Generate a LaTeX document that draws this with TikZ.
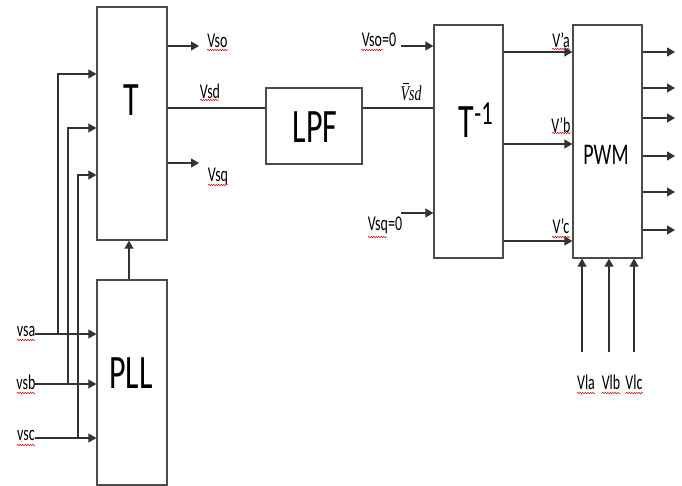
\documentclass[tikz,border=0pt]{standalone}
\usepackage{fontspec}
\setmainfont{Carlito}
\newfontfamily\serifit{Liberation Serif}
\usepackage{graphicx}
\usetikzlibrary{arrows.meta,decorations.pathmorphing}
\newcommand{\tallt}[1]{\scalebox{1}[1.5]{#1}}
\newcommand{\barV}{\makebox[0pt][l]{\hspace{2.6pt}\raisebox{10.8pt}{\rule{5.5pt}{0.7pt}}}V}
\begin{document}
\begin{tikzpicture}[x=1pt,y=-1pt,
 box/.style={draw=black!70,line width=1.3pt,inner sep=0pt},
 conn/.style={draw=black!80,line width=1.1pt},
 arr/.style={conn,-{Triangle[length=8pt,width=9pt]}},
 lbl/.style={inner sep=0pt,font=\fontsize{14}{14}\selectfont},
 big/.style={inner sep=0pt,font=\fontsize{32}{32}\selectfont},
 mid/.style={inner sep=0pt,font=\fontsize{20}{20}\selectfont},
 spell/.style={draw=red!85!black,line width=0.5pt,decorate,decoration={snake,amplitude=0.7pt,segment length=2.5pt}}
]
\useasboundingbox (0,0) rectangle (682,486);
% boxes
\node[box,minimum width=70pt,minimum height=233pt] (T) at (132,123.5) {};
\node[box,minimum width=70pt,minimum height=205pt] (PLL) at (132,382.5) {};
\node[box,minimum width=96pt,minimum height=76pt] (LPF) at (314,126) {};
\node[box,minimum width=69pt,minimum height=233pt] (Ti) at (468.5,141.5) {};
\node[box,minimum width=69pt,minimum height=233pt] (PWM) at (607.5,141.5) {};
% box texts
\node[big] (Tt) at (131,100) {\tallt{T}};
\node[big] (PLLt) at (131,373) {\tallt{PLL}};
\node[big] (LPFt) at (315,127) {\tallt{LPF}};
\node[big] (Tit) at (476,120) {\tallt{T\textsuperscript{-1}}};
\node[mid] (PWMt) at (606,155) {\tallt{PWM}};
% labels
\node[lbl] (lso) at (217.5,41) {\tallt{Vso}};
\node[lbl] (lsd) at (210,91) {\tallt{Vsd}};
\node[lbl] (lsq) at (218,176) {\tallt{Vsq}};
\node[lbl] (lsa) at (26,331) {\tallt{vsa}};
\node[lbl] (lsb) at (26,382) {\tallt{vsb}};
\node[lbl] (lsc) at (26,435) {\tallt{vsc}};
\node[lbl] (lso0) at (379,40) {\tallt{Vso=0}};
\node[lbl] (lsq0) at (385,225) {\tallt{Vsq=0}};
\node[inner sep=0pt,font=\fontsize{14}{14}\selectfont\serifit\itshape] (lbar) at (411,92) {\tallt{\barV sd}};
\node[lbl] (la) at (561,40) {\tallt{V'a}};
\node[lbl] (lb) at (561,125) {\tallt{V'b}};
\node[lbl] (lc) at (561,226) {\tallt{V'c}};
\node[lbl] (lla) at (586,382) {\tallt{Vla}};
\node[lbl] (llb) at (611,382) {\tallt{Vlb}};
\node[lbl] (llc) at (634,382) {\tallt{Vlc}};
% spell-check underlines
\draw[spell] (207,50) -- (228,50);
\draw[spell] (200,100) -- (219,100);
\draw[spell] (208,185) -- (228,185);
\draw[spell] (17,340) -- (35,340);
\draw[spell] (17,393) -- (35,393);
\draw[spell] (17,445) -- (35,445);
\draw[spell] (361,50) -- (383,50);
\draw[spell] (368,237) -- (387,237);
\draw[spell] (552,49) -- (570,49);
\draw[spell] (552,133) -- (571,133);
\draw[spell] (552,237) -- (570,237);
\draw[spell] (577,393) -- (595,393);
\draw[spell] (602,393) -- (620,393);
\draw[spell] (626,393) -- (643,393);
% free-end coordinates
\coordinate (sa) at (35,334);
\coordinate (sb) at (35,384);
\coordinate (sc) at (35,438);
\coordinate (ja) at (58,334);
\coordinate (jb) at (68,384);
\coordinate (jc) at (78,438);
\coordinate (oso) at (199,46);
\coordinate (osq) at (199,163);
\coordinate (iso) at (401,46);
\coordinate (isq) at (401,213);
\coordinate (pla) at (582,352);
\coordinate (plb) at (609,352);
\coordinate (plc) at (634,352);
% inputs to PLL
\draw[arr] (sa) -- (sa -| PLL.west);
\draw[arr] (sb) -- (sb -| PLL.west);
\draw[arr] (sc) -- (sc -| PLL.west);
% branches to T
\draw[arr] (ja) |- (T.west |- 0,74);
\draw[arr] (jb) |- (T.west |- 0,128);
\draw[arr] (jc) |- (T.west |- 0,175);
% PLL to T
\draw[arr] (PLL.north -| 129,0) -- (T.south -| 129,0);
% T outputs
\draw[arr] (T.east |- oso) -- (oso);
\draw[arr] (T.east |- osq) -- (osq);
\draw[conn] (T.east |- 0,108) -- (LPF.west |- 0,108);
\draw[conn] (LPF.east |- 0,108) -- (Ti.west |- 0,108);
% T^-1 inputs
\draw[arr] (iso) -- (iso -| Ti.west);
\draw[arr] (isq) -- (isq -| Ti.west);
% T^-1 to PWM
\draw[arr] (Ti.east |- 0,52) -- (PWM.west |- 0,52);
\draw[arr] (Ti.east |- 0,144) -- (PWM.west |- 0,144);
\draw[arr] (Ti.east |- 0,241) -- (PWM.west |- 0,241);
% PWM outputs
\foreach \yy/\nm in {52/o1,88/o2,118/o3,156/o4,192/o5,230/o6}{
  \coordinate (\nm) at (675,\yy);
  \draw[arr] (PWM.east |- \nm) -- (\nm);
}
% bottom inputs to PWM
\draw[arr] (pla) -- (pla |- PWM.south);
\draw[arr] (plb) -- (plb |- PWM.south);
\draw[arr] (plc) -- (plc |- PWM.south);
\end{tikzpicture}
\end{document}
